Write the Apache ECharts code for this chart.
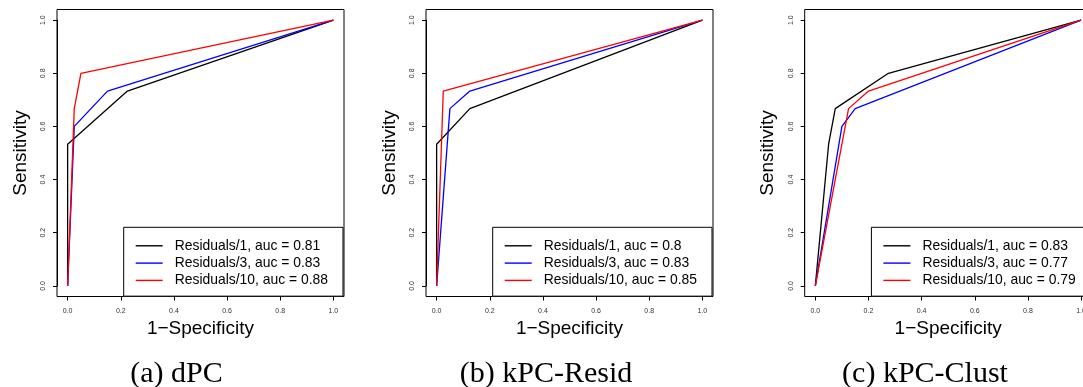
<!DOCTYPE html>
<html>
<head>
<meta charset="utf-8">
<title>ROC curves</title>
<script src="https://cdn.jsdelivr.net/npm/echarts@6/dist/echarts.min.js"></script>
<style>
  html, body { margin: 0; padding: 0; background: #fff; }
  #chart { width: 1083px; height: 387px; }
</style>
</head>
<body>
<div id="chart"></div>
<script>
  var captions = ['(a) dPC', '(b) kPC-Resid', '(c) kPC-Clust'];
  var residLabels = ['Residuals/1', 'Residuals/3', 'Residuals/10'];
  var lineColors = ['#000000', '#0000ff', '#ff0000'];

  // auc per panel, in legend order
  var aucA = [0.81, 0.83, 0.88];
  var aucB = [0.8, 0.83, 0.85];
  var aucC = [0.83, 0.77, 0.79];

  // (a) dPC  -- 1-specificity / sensitivity
  var fprA1 = [0, 0, 0.225, 1];
  var tprA1 = [0, 0.533, 0.733, 1];
  var fprA3 = [0, 0.025, 0.15, 1];
  var tprA3 = [0, 0.6, 0.733, 1];
  var fprA10 = [0, 0.025, 0.05, 1];
  var tprA10 = [0, 0.667, 0.8, 1];

  // (b) kPC-Resid
  var fprB1 = [0, 0, 0.125, 1];
  var tprB1 = [0, 0.533, 0.667, 1];
  var fprB3 = [0, 0.05, 0.125, 1];
  var tprB3 = [0, 0.667, 0.733, 1];
  var fprB10 = [0, 0.025, 1];
  var tprB10 = [0, 0.733, 1];

  // (c) kPC-Clust
  var fprC1 = [0, 0.05, 0.075, 0.275, 1];
  var tprC1 = [0, 0.533, 0.667, 0.8, 1];
  var fprC3 = [0, 0.1, 0.15, 1];
  var tprC3 = [0, 0.6, 0.667, 1];
  var fprC10 = [0, 0.125, 0.2, 1];
  var tprC10 = [0, 0.667, 0.733, 1];

  var panels = [
    { left: 57, caption: 171.5, auc: aucA, fpr: [fprA1, fprA3, fprA10], tpr: [tprA1, tprA3, tprA10] },
    { left: 426, caption: 541, auc: aucB, fpr: [fprB1, fprB3, fprB10], tpr: [tprB1, tprB3, tprB10] },
    { left: 804.7, caption: 920, auc: aucC, fpr: [fprC1, fprC3, fprC10], tpr: [tprC1, tprC3, tprC10] }
  ];

  var sans = 'Liberation Sans, Arial, sans-serif';
  var boxSize = 287, boxTop = 9.5;
  var pad = boxSize * 0.04 / 1.08;   // R's 4% axis extension
  var grids = [], xAxes = [], yAxes = [], series = [], legends = [], titles = [];

  panels.forEach(function (p, i) {
    // data area (0..1), axes hang off the frame via offset
    grids.push({
      left: p.left + pad, top: boxTop + pad, width: boxSize - 2 * pad, height: boxSize - 2 * pad,
      show: false, outerBoundsMode: 'none'
    });

    xAxes.push({
      gridIndex: i, type: 'value', min: 0, max: 1, interval: 0.2, offset: pad,
      name: '1\u2212Specificity', nameLocation: 'middle', nameGap: 20,
      nameTextStyle: { fontFamily: sans, fontSize: 19, color: '#000' },
      axisLine: { show: true, onZero: false, lineStyle: { color: '#000', width: 1 } },
      splitLine: { show: false },
      axisTick: { show: true, length: 4, lineStyle: { color: '#000', width: 1 } },
      axisLabel: {
        margin: 11, fontSize: 7, color: '#333', fontFamily: sans,
        formatter: function (v) { return v.toFixed(1); }
      }
    });

    yAxes.push({
      gridIndex: i, type: 'value', min: 0, max: 1, interval: 0.2, offset: pad,
      name: 'Sensitivity', nameLocation: 'middle', nameGap: 27, nameRotate: 90,
      nameTextStyle: { fontFamily: sans, fontSize: 19, color: '#000' },
      axisLine: { show: true, onZero: false, lineStyle: { color: '#000', width: 1 } },
      splitLine: { show: false },
      axisTick: { show: true, length: 4, lineStyle: { color: '#000', width: 1 } },
      axisLabel: {
        margin: 10, rotate: 90, fontSize: 7, color: '#333', fontFamily: sans,
        formatter: function (v) { return v.toFixed(1); }
      }
    });

    var names = [];
    residLabels.forEach(function (lab, k) {
      var nm = lab + ', auc = ' + p.auc[k];
      names.push(nm);
      series.push({
        name: nm, type: 'line', xAxisIndex: i, yAxisIndex: i,
        data: p.fpr[k].map(function (x, j) { return [x, p.tpr[k][j]]; }),
        showSymbol: false, symbol: 'none', clip: false,
        color: lineColors[k],
        lineStyle: { color: lineColors[k], width: 1.3 },
        z: 2
      });
    });

    legends.push({
      data: names, orient: 'vertical',
      left: p.left + 66.7, top: 227.3,
      backgroundColor: '#fff', borderColor: '#000', borderWidth: 1, borderRadius: 0,
      padding: [10, 15, 7.25, 12],
      icon: 'rect', itemWidth: 27, itemHeight: 1.4, itemGap: 0.3,
      selectedMode: false,
      textStyle: { fontFamily: sans, fontSize: 13.9, lineHeight: 17, color: '#000', padding: [0, 0, 0, 7] }
    });

    titles.push({
      text: captions[i], left: p.caption, top: 354, textAlign: 'center',
      textStyle: { fontFamily: 'Liberation Serif, Times New Roman, serif', fontSize: 30, fontWeight: 'normal', color: '#000' }
    });
  });

  // plot frames (box around each panel), with hidden axes
  panels.forEach(function (p, i) {
    grids.push({
      left: p.left, top: boxTop, width: boxSize, height: boxSize,
      show: true, borderColor: '#000', borderWidth: 1,
      backgroundColor: 'transparent', outerBoundsMode: 'none'
    });
    xAxes.push({ gridIndex: 3 + i, type: 'value', min: 0, max: 1, show: false });
    yAxes.push({ gridIndex: 3 + i, type: 'value', min: 0, max: 1, show: false });
  });

  var chart = echarts.init(document.getElementById('chart'));
  chart.setOption({
    animation: false,
    backgroundColor: '#fff',
    title: titles,
    grid: grids,
    xAxis: xAxes,
    yAxis: yAxes,
    legend: legends,
    series: series
  });
</script>
</body>
</html>
